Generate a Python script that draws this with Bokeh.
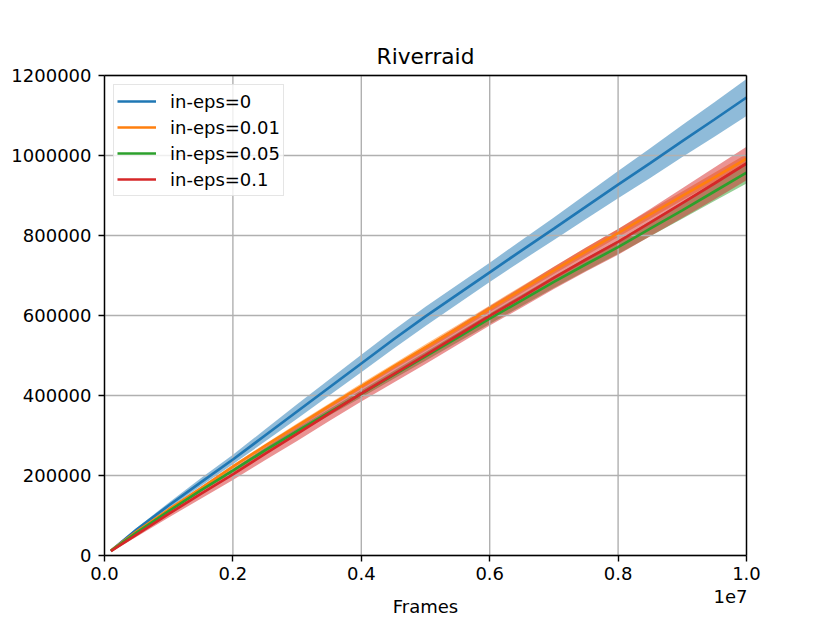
from bokeh.plotting import figure
from bokeh.models import Range1d, FixedTicker, CustomJSTickFormatter, Legend, LegendItem, LinearAxis
from bokeh.embed import file_html
from bokeh.resources import INLINE

frames = [100000, 500000, 1000000, 1500000, 2000000, 2500000, 3000000, 3500000,
          4000000, 4500000, 5000000, 5500000, 6000000, 6500000, 7000000, 7500000,
          8000000, 8500000, 9000000, 9500000, 10000000]

series_names = ["in-eps=0", "in-eps=0.01", "in-eps=0.05", "in-eps=0.1"]

mean_eps0 = [12000, 65000, 125000, 183000, 240000, 300000, 360000, 420000, 480000, 540000,
             598000, 653000, 708000, 763000, 817000, 872000, 927000, 981000, 1036000, 1090000, 1145000]
band_eps0 = [2000, 4000, 7000, 10000, 12000, 15000, 18000, 20000, 22000, 23000,
             24000, 24000, 24000, 26000, 28000, 31000, 34000, 37000, 40000, 43000, 46000]

mean_eps001 = [12000, 60000, 115000, 168000, 222000, 274000, 324000, 374000, 423000, 472000,
               520000, 568000, 617000, 665000, 713000, 760000, 806000, 853000, 899000, 945000, 992000]
band_eps001 = [1000, 2000, 3000, 4000, 5000, 5000, 6000, 6000, 7000, 7000,
               8000, 8000, 8000, 9000, 9000, 10000, 10000, 11000, 11000, 12000, 12000]

mean_eps005 = [11500, 57000, 111000, 163000, 212000, 263000, 311000, 358000, 404000, 451000,
               498000, 545000, 592000, 638000, 684000, 728000, 771000, 817000, 863000, 910000, 957000]
band_eps005 = [1000, 2000, 3000, 4000, 5000, 6000, 7000, 8000, 9000, 10000,
               11000, 12000, 13000, 14000, 15000, 16000, 17000, 19000, 21000, 24000, 27000]

mean_eps01 = [11000, 52000, 104000, 154000, 203000, 254000, 304000, 355000, 405000, 453000,
              501000, 550000, 599000, 646000, 694000, 740000, 784000, 832000, 881000, 930000, 980000]
band_eps01 = [2000, 5000, 9000, 12000, 14000, 16000, 18000, 19000, 20000, 21000,
              22000, 23000, 24000, 26000, 28000, 30000, 32000, 34000, 37000, 40000, 42000]

colors = ["#1f77b4", "#ff7f0e", "#2ca02c", "#d62728"]

x_ticks = [0, 2000000, 4000000, 6000000, 8000000, 10000000]
y_ticks = [0, 200000, 400000, 600000, 800000, 1000000, 1200000]
title_text = "Riverraid"
x_label = "Frames"
x_offset_text = "1e7"

X_MIN, X_MAX = 0, 10000000
Y_MIN, Y_MAX = 0, 1200000

FONT = "DejaVu Sans"
W, H = 822, 615
# axes box in canvas pixels: x 104..746, y 75..555
PX_X = (X_MAX - X_MIN) / 642.0
PX_Y = (Y_MAX - Y_MIN) / 480.0

# The plotting frame covers the whole canvas; the axes box is drawn with fixed-location axes,
# so every text (tick labels, title, axis label) lies inside the frame.
p = figure(width=W, height=H, output_backend="svg", toolbar_location=None,
           x_range=Range1d(X_MIN - 104 * PX_X, X_MAX + (W - 746) * PX_X),
           y_range=Range1d(Y_MIN - (H - 555) * PX_Y, Y_MAX + 75 * PX_Y),
           min_border_left=0, min_border_right=0, min_border_top=0, min_border_bottom=0)
p.background_fill_color = "white"
p.border_fill_color = "white"
p.outline_line_color = None
p.xgrid.visible = False
p.ygrid.visible = False

means = [mean_eps0, mean_eps001, mean_eps005, mean_eps01]
bands = [band_eps0, band_eps001, band_eps005, band_eps01]

for m, b, c in zip(means, bands, colors):
    lo = [mi - bi for mi, bi in zip(m, b)]
    hi = [mi + bi for mi, bi in zip(m, b)]
    p.varea(x=frames, y1=lo, y2=hi, fill_color=c, fill_alpha=0.5, level="image")

# grid lines limited to the axes box
p.segment(x0=x_ticks, y0=[Y_MIN] * len(x_ticks), x1=x_ticks, y1=[Y_MAX] * len(x_ticks),
          line_color="#b0b0b0", line_width=1.4, level="underlay")
p.segment(x0=[X_MIN] * len(y_ticks), y0=y_ticks, x1=[X_MAX] * len(y_ticks), y1=y_ticks,
          line_color="#b0b0b0", line_width=1.4, level="underlay")

items = []
for m, c, name in zip(means, colors, series_names):
    r = p.line(frames, m, line_color=c, line_width=2.7)
    items.append(LegendItem(label=name, renderers=[r]))

legend = Legend(items=items, location=(113, H - 84 - 112))
legend.margin = 0
legend.padding = 3
legend.spacing = 0
legend.glyph_width = 39
legend.glyph_height = 26
legend.label_height = 26
legend.label_standoff = 14
legend.label_text_font = FONT
legend.label_text_font_size = "18px"
legend.label_text_color = "black"
legend.border_line_color = "#cccccc"
legend.border_line_width = 1
legend.background_fill_alpha = 0.8
p.add_layout(legend)

for ax in (p.xaxis, p.yaxis):
    ax.axis_line_color = "black"
    ax.axis_line_width = 1.4
    ax.major_tick_line_color = "black"
    ax.major_tick_line_width = 1.4
    ax.major_tick_in = 0
    ax.major_tick_out = 6
    ax.minor_tick_line_color = None
    ax.major_label_text_font = FONT
    ax.major_label_text_font_size = "18px"
    ax.major_label_text_color = "black"

p.xaxis.fixed_location = Y_MIN
p.xaxis.bounds = (X_MIN, X_MAX)
p.xaxis.ticker = FixedTicker(ticks=x_ticks)
p.xaxis.formatter = CustomJSTickFormatter(code="return (tick/1e7).toFixed(1);")
p.xaxis.major_label_standoff = 5

p.yaxis.fixed_location = X_MIN
p.yaxis.bounds = (Y_MIN, Y_MAX)
p.yaxis.ticker = FixedTicker(ticks=y_ticks)
p.yaxis.formatter = CustomJSTickFormatter(code="return tick.toFixed(0);")
p.yaxis.major_label_standoff = 7


def spine_axis(loc, bounds):
    ax = LinearAxis(fixed_location=loc, bounds=bounds, ticker=FixedTicker(ticks=[]),
                    formatter=CustomJSTickFormatter(code="return '';"))
    ax.axis_line_color = "black"
    ax.axis_line_width = 1.4
    ax.major_tick_line_color = None
    ax.minor_tick_line_color = None
    ax.major_tick_in = 0
    ax.major_tick_out = 0
    ax.major_label_standoff = 0
    return ax


p.add_layout(spine_axis(X_MAX, (Y_MIN, Y_MAX)), "right")
p.add_layout(spine_axis(Y_MAX, (X_MIN, X_MAX)), "above")


def text_axis(loc, pos, text, standoff, size):
    ax = LinearAxis(fixed_location=loc,
                    ticker=FixedTicker(ticks=[pos]),
                    formatter=CustomJSTickFormatter(code="return %r;" % text))
    ax.axis_line_color = None
    ax.major_tick_line_color = None
    ax.minor_tick_line_color = None
    ax.major_tick_in = 0
    ax.major_tick_out = 0
    ax.major_label_standoff = standoff
    ax.major_label_text_font = FONT
    ax.major_label_text_font_size = size
    ax.major_label_text_color = "black"
    return ax


# title, axis title and the offset text under the last tick label
p.add_layout(text_axis(Y_MAX, 5000000, title_text, 7, "21.7px"), "above")
p.add_layout(text_axis(Y_MIN, 5000000, x_label, 40, "18px"), "below")
p.add_layout(text_axis(Y_MIN, 9750000, x_offset_text, 34, "18px"), "below")

open("out.html", "w").write(file_html(p, INLINE))
